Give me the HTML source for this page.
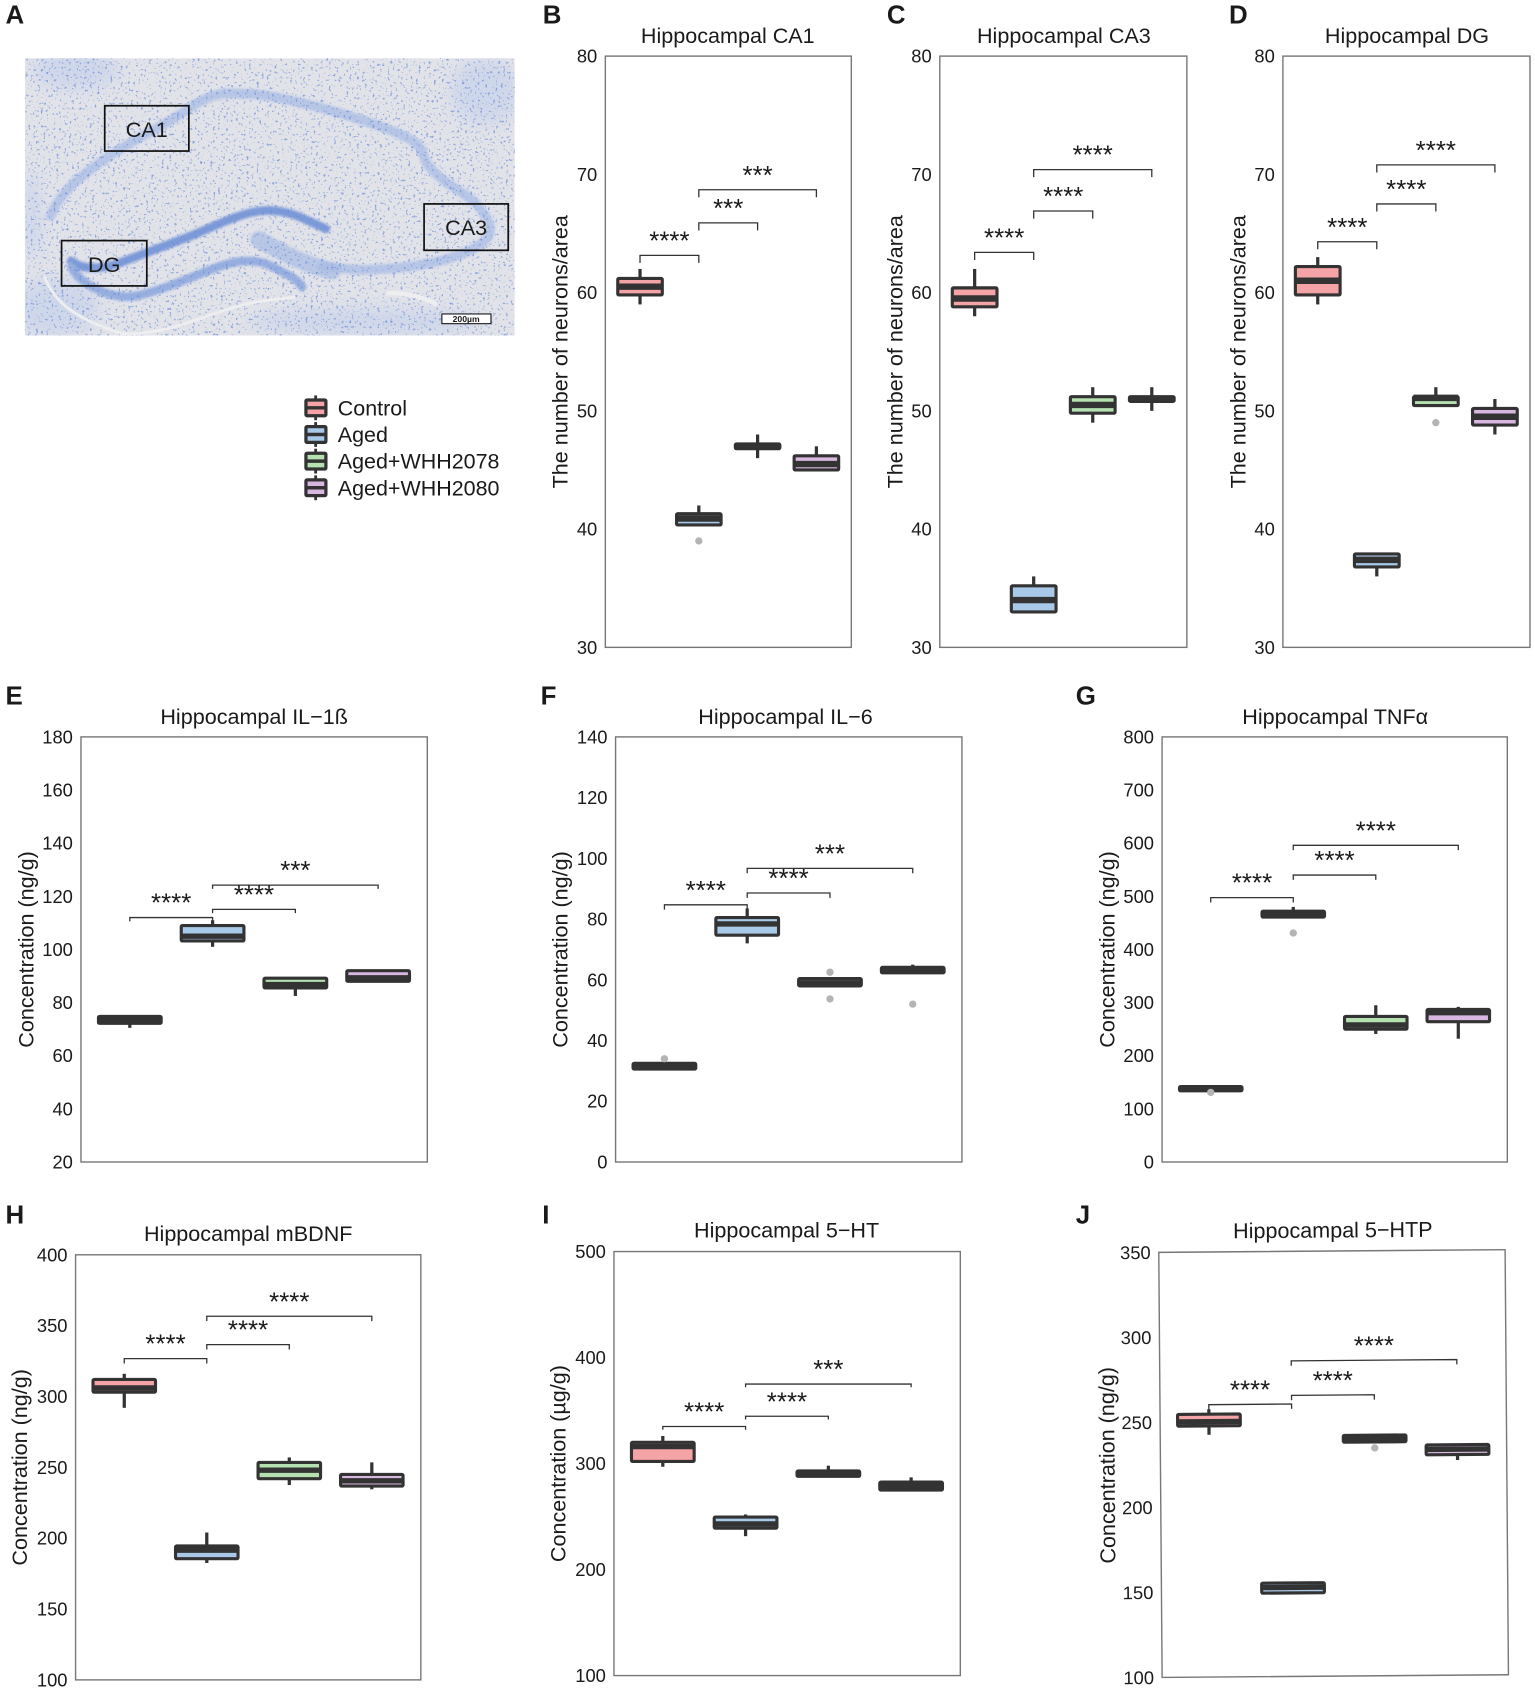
<!DOCTYPE html>
<html lang="en"><head><meta charset="utf-8"><title>Hippocampal measurements</title>
<style>html,body{margin:0;padding:0;background:#fff}svg{display:block}text{font-family:"Liberation Sans",sans-serif;fill:#1a1a1a}</style></head>
<body>
<svg id="fig" xmlns="http://www.w3.org/2000/svg" width="1535" height="1691" viewBox="0 0 1422.6 1567.3">
<defs>
<filter id="speckle" x="0" y="0" width="100%" height="100%" color-interpolation-filters="sRGB"><feTurbulence type="fractalNoise" baseFrequency="0.42" numOctaves="2" seed="4"/><feColorMatrix type="matrix" values="0 0 0 0 .42  0 0 0 0 .55  0 0 0 0 .84  0 0 0 8 -4.9"/></filter>
<filter id="soft" x="-30%" y="-30%" width="160%" height="160%"><feGaussianBlur stdDeviation="7"/></filter>
<filter id="softer" x="-10%" y="-10%" width="120%" height="120%"><feGaussianBlur stdDeviation="1.2"/></filter>
<clipPath id="histo-clip"><rect x="23" y="54" width="454" height="257"/></clipPath>
</defs>
<rect width="1422.6" height="1567.3" fill="#fff"/>
<g id="histology" clip-path="url(#histo-clip)">
<rect x="23" y="54" width="454" height="257" fill="#e2e3e9"/>
<g filter="url(#soft)" fill="#cfd7ea">
<ellipse cx="70" cy="65" rx="40" ry="18"/><ellipse cx="450" cy="85" rx="32" ry="30"/><ellipse cx="50" cy="285" rx="42" ry="26"/><ellipse cx="340" cy="298" rx="110" ry="12"/><ellipse cx="30" cy="200" rx="8" ry="40"/>
</g>
<g fill="none" stroke-linecap="round" filter="url(#softer)">
<path d="M47 200C55 178 79 159 107 141S150 118 176 100S215 87 230 87S300 98 352 117S385 140 399 156S435 180 444 192S460 215 447 225S400 250 330 250L299 247" stroke="#b7c6e6" stroke-width="9"/>
<path d="M240 222C262 234 280 245 312 252" stroke="#a6bae2" stroke-width="16" stroke-dasharray="2 6" opacity=".7"/>
<path d="M66 242C76 250 94 250 110 244S160 225 176 219S225 195 248 195S285 205 302 212" stroke="#7b9ad8" stroke-width="8"/>
<path d="M66 247C72 262 100 276 119 275S175 258 195 250S235 238 252 247S275 258 280 266" stroke="#97afdf" stroke-width="8"/>
</g>
<rect x="23" y="54" width="454" height="257" filter="url(#speckle)" opacity=".7"/>
<path d="M41 256C50 280 70 296 113 309C150 312 190 292 220 284S260 278 274 275" fill="none" stroke="#eeeef1" stroke-width="2.6"/>
<path d="M358 272Q380 270 405 282" fill="none" stroke="#eeeef1" stroke-width="4"/>
</g>
<g id="histo-marks" fill="none" stroke="#111" stroke-width="1.6">
<rect x="97" y="98" width="78" height="42"/>
<rect x="57" y="223" width="79" height="42"/>
<rect x="393" y="189" width="78" height="43"/>
</g>
<g font-size="20">
<text x="136" y="127" text-anchor="middle">CA1</text>
<text x="96.5" y="252" text-anchor="middle">DG</text>
<text x="432" y="218" text-anchor="middle">CA3</text>
</g>
<rect x="409.5" y="291" width="45.5" height="9" fill="#fff" stroke="#111" stroke-width="1"/>
<text x="432" y="298.6" font-size="8" font-weight="bold" text-anchor="middle">200µm</text>
<g id="panels"></g>
<g id="legend"></g>
</svg>
<script>
// ---- shared categories ----
const categories = ['Control', 'Aged', 'Aged+WHH2078', 'Aged+WHH2080'];
const boxFills = ['#f4a3a6', '#a9c9e8', '#b5e0b0', '#d9b7e0'];

// ---- panel B ----
const bTicks = [30, 40, 50, 60, 70, 80];
const bQ1 = [59.8, 40.35, 46.8, 45.0];
const bMedian = [60.5, 40.9, 47.0, 45.5];
const bQ3 = [61.2, 41.3, 47.2, 46.2];
const bLow = [59, 40.35, 46, 45];
const bHigh = [62, 42, 48, 47];
const bOutliers = [[], [39], [], []];
const bBrackets = [63.15, 65.9, 68.7];
const bStars = ['****', '***', '***'];
// ---- panel C ----
const cTicks = [30, 40, 50, 60, 70, 80];
const cQ1 = [58.8, 33.0, 49.8, 50.8];
const cMedian = [59.5, 34.0, 50.5, 51.0];
const cQ3 = [60.4, 35.2, 51.2, 51.2];
const cLow = [58, 33, 49, 50];
const cHigh = [62, 36, 52, 52];
const cOutliers = [[], [], [], []];
const cBrackets = [63.4, 66.9, 70.4];
const cStars = ['****', '****', '****'];
// ---- panel D ----
const dTicks = [30, 40, 50, 60, 70, 80];
const dQ1 = [59.8, 36.8, 50.45, 48.8];
const dMedian = [61.0, 37.4, 51.1, 49.5];
const dQ3 = [62.2, 37.9, 51.2, 50.2];
const dLow = [59, 36, 50.45, 48];
const dHigh = [63, 38, 52, 51];
const dOutliers = [[], [], [49], []];
const dBrackets = [64.3, 67.5, 70.8];
const dStars = ['****', '****', '****'];
// ---- panel E ----
const eTicks = [20, 40, 60, 80, 100, 120, 140, 160, 180];
const eQ1 = [72.2, 103.2, 85.5, 88.0];
const eMedian = [73.5, 105.0, 86.8, 89.3];
const eQ3 = [74.8, 109.0, 89.2, 92.0];
const eLow = [70.5, 101, 82.5, 88];
const eHigh = [75, 111, 89.2, 92];
const eOutliers = [[], [], [], []];
const eBrackets = [112, 115.1, 124.2];
const eStars = ['****', '****', '***'];
// ---- panel F ----
const fTicks = [0, 20, 40, 60, 80, 100, 120, 140];
const fQ1 = [30.6, 74.7, 58.0, 62.3];
const fMedian = [31.5, 78.4, 59.0, 63.0];
const fQ3 = [32.5, 80.5, 60.4, 64.1];
const fLow = [30.6, 72, 58, 62.3];
const fHigh = [32.5, 83.5, 60.4, 65];
const fOutliers = [[34], [], [62.5, 53.7], [52]];
const fBrackets = [84.7, 88.6, 96.7];
const fStars = ['****', '****', '***'];
// ---- panel G ----
const gTicks = [0, 100, 200, 300, 400, 500, 600, 700, 800];
const gQ1 = [134, 461, 250, 264];
const gMedian = [138, 466, 258, 281];
const gQ3 = [142, 472, 274, 287];
const gLow = [134, 461, 241, 232];
const gHigh = [142, 480, 295, 292];
const gOutliers = [[131], [431], [], []];
const gBrackets = [497.6, 540, 596];
const gStars = ['****', '****', '****'];
// ---- panel H ----
const hTicks = [100, 150, 200, 250, 300, 350, 400];
const hQ1 = [303, 185.5, 242, 236.8];
const hMedian = [306, 191.5, 248, 240.5];
const hQ3 = [312, 194.5, 253.5, 245];
const hLow = [292, 182.5, 237.5, 234.5];
const hHigh = [316, 204, 257, 253.5];
const hOutliers = [[], [], [], []];
const hBrackets = [326.7, 336.6, 356.6];
const hStars = ['****', '****', '****'];
// ---- panel I ----
const iTicks = [100, 200, 300, 400, 500];
const iQ1 = [302, 239, 288, 275];
const iMedian = [316, 243, 290.5, 279];
const iQ3 = [320, 249.5, 293, 282.5];
const iLow = [297, 231.5, 288, 275];
const iHigh = [326, 252, 298, 287];
const iOutliers = [[], [], [], []];
const iBrackets = [335, 344.6, 375];
const iStars = ['****', '****', '***'];
// ---- panel J ----
const jTicks = [100, 150, 200, 250, 300, 350];
const jQ1 = [247.7, 149.1, 237.5, 229.7];
const jMedian = [250.2, 152.4, 239.5, 232.9];
const jQ3 = [254.6, 155, 241.5, 235.5];
const jLow = [242.5, 149.1, 237.5, 226.5];
const jHigh = [257.5, 155, 241.5, 235.5];
const jOutliers = [[], [], [234], []];
const jBrackets = [260.2, 265.3, 285.6];
const jStars = ['****', '****', '****'];

const NS = 'http://www.w3.org/2000/svg';
const DARK = '#333';
function mk(tag, attrs, parent, text) {
  const el = document.createElementNS(NS, tag);
  for (const k in attrs) el.setAttribute(k, attrs[k]);
  if (text !== undefined) el.textContent = text;
  parent.appendChild(el);
  return el;
}
function slug(s) { return s.toLowerCase().replace(/[^a-z0-9]+/g, '-').replace(/^-|-$/g, ''); }

const panelDefs = [
  {key:'b', letter:'B', title:'Hippocampal CA1', tx:674.5, ylabel:'The number of neurons/area', box:[561,52,789,600], lx:503, ly:22, tb:40, yl:526, drop:7, medW:6, ticks:bTicks, q1:bQ1, med:bMedian, q3:bQ3, lo:bLow, hi:bHigh, out:bOutliers, br:bBrackets, st:bStars},
  {key:'c', letter:'C', title:'Hippocampal CA3', tx:986, ylabel:'The number of neurons/area', box:[871,52,1100,600], lx:822, ly:22, tb:40, yl:836.5, drop:7, medW:6, ticks:cTicks, q1:cQ1, med:cMedian, q3:cQ3, lo:cLow, hi:cHigh, out:cOutliers, br:cBrackets, st:cStars},
  {key:'d', letter:'D', title:'Hippocampal DG', tx:1304, ylabel:'The number of neurons/area', box:[1189,52,1418,600], lx:1139, ly:22, tb:40, yl:1154.5, drop:7, medW:6, ticks:dTicks, q1:dQ1, med:dMedian, q3:dQ3, lo:dLow, hi:dHigh, out:dOutliers, br:dBrackets, st:dStars},
  {key:'e', letter:'E', title:'Hippocampal IL\u22121\u00df', tx:235.5, ylabel:'Concentration (ng/g)', box:[75,683,396,1077], lx:5, ly:653, tb:671, yl:31, drop:3.5, medW:5, ticks:eTicks, q1:eQ1, med:eMedian, q3:eQ3, lo:eLow, hi:eHigh, out:eOutliers, br:eBrackets, st:eStars},
  {key:'f', letter:'F', title:'Hippocampal IL\u22126', tx:728, ylabel:'Concentration (ng/g)', box:[570.5,683,891.5,1077], lx:501, ly:653, tb:671, yl:526, drop:4.5, medW:5, ticks:fTicks, q1:fQ1, med:fMedian, q3:fQ3, lo:fLow, hi:fHigh, out:fOutliers, br:fBrackets, st:fStars},
  {key:'g', letter:'G', title:'Hippocampal TNF\u03b1', tx:1237.5, ylabel:'Concentration (ng/g)', box:[1077,683,1397,1077], lx:997, ly:653, tb:671, yl:1033, drop:4.5, medW:5, ticks:gTicks, q1:gQ1, med:gMedian, q3:gQ3, lo:gLow, hi:gHigh, out:gOutliers, br:gBrackets, st:gStars},
  {key:'h', letter:'H', title:'Hippocampal mBDNF', tx:230, ylabel:'Concentration (ng/g)', box:[70,1163,390,1557], lx:5, ly:1134, tb:1150, yl:25, drop:4.5, medW:5, ticks:hTicks, q1:hQ1, med:hMedian, q3:hQ3, lo:hLow, hi:hHigh, out:hOutliers, br:hBrackets, st:hStars},
  {key:'i', letter:'I', title:'Hippocampal 5\u2212HT', tx:729, ylabel:'Concentration (\u00b5g/g)', box:[569,1160,890,1553], lx:502.5, ly:1134, tb:1147, yl:524, drop:3, medW:5, ticks:iTicks, q1:iQ1, med:iMedian, q3:iQ3, lo:iLow, hi:iHigh, out:iOutliers, br:iBrackets, st:iStars},
  {key:'j', letter:'J', title:'Hippocampal 5\u2212HTP', tx:1237, ylabel:'Concentration (ng/g)', box:[1075.5,1159.5,1396.5,1553.5], lx:997, ly:1134, tb:1147, yl:1033, drop:4.5, medW:5, tilt:-0.45, ticks:jTicks, q1:jQ1, med:jMedian, q3:jQ3, lo:jLow, hi:jHigh, out:jOutliers, br:jBrackets, st:jStars}
];

const panelsRoot = document.getElementById('panels');
const slotFrac = [0.141, 0.38, 0.619, 0.858];

panelDefs.forEach(function (p) {
  const L = p.box[0], T = p.box[1], R = p.box[2], B = p.box[3];
  const W = R - L;
  const yMin = p.ticks[0], yMax = p.ticks[p.ticks.length - 1];
  const yScale = function (v) { return B - (v - yMin) / (yMax - yMin) * (B - T); };
  const xScale = function (i) { return L + slotFrac[i] * W; };
  const boxW = 0.181 * W;

  const letter = mk('text', {x: p.lx, y: p.ly, 'font-size': 24, 'font-weight': 'bold', fill: '#111'}, panelsRoot, p.letter);
  
  

  const g = mk('g', {}, panelsRoot);
  
  
  if (p.tilt) g.setAttribute('transform', 'rotate(' + p.tilt + ' ' + ((L + R) / 2) + ' ' + ((T + B) / 2) + ')');

  const frame = mk('rect', {x: L, y: T, width: W, height: B - T, fill: '#fff', stroke: '#777', 'stroke-width': 1.3}, g);
  
  

  const title = mk('text', {x: p.tx, y: p.tb, 'font-size': 20, 'text-anchor': 'middle'}, g, p.title);
  
  

  const yt = mk('text', {x: 0, y: 0, 'font-size': 20, 'text-anchor': 'middle', transform: 'translate(' + p.yl + ' ' + ((T + B) / 2) + ') rotate(-90)'}, g, p.ylabel);
  
  

  p.ticks.forEach(function (t) {
    const lab = mk('text', {x: L - 7.5, y: yScale(t) + 6, 'font-size': 17, 'text-anchor': 'end'}, g, String(t));
    
    
  });

  categories.forEach(function (cat, i) {
    const cx = xScale(i);
    const group = mk('g', {}, g);
    
    

    const whisker = mk('line', {x1: cx, x2: cx, y1: yScale(p.hi[i]), y2: yScale(p.lo[i]), stroke: DARK, 'stroke-width': 3}, group);
    
    

    const rect = mk('rect', {x: cx - boxW / 2, y: yScale(p.q3[i]), width: boxW, height: yScale(p.q1[i]) - yScale(p.q3[i]), fill: boxFills[i], stroke: DARK, 'stroke-width': 2.9, rx: 1}, group);
    
    

    const median = mk('line', {x1: cx - boxW / 2, x2: cx + boxW / 2, y1: yScale(p.med[i]), y2: yScale(p.med[i]), stroke: DARK, 'stroke-width': p.medW}, group);
    
    

    p.out[i].forEach(function (v) {
      const dot = mk('circle', {cx: cx, cy: yScale(v), r: 3.4, fill: '#b4b4b4'}, group);
      
      
    });
  });

  const spans = [[0, 1], [1, 2], [1, 3]];
  spans.forEach(function (s, k) {
    const y = yScale(p.br[k]);
    const x1 = xScale(s[0]), x2 = xScale(s[1]);
    const br = mk('path', {d: 'M' + x1 + ' ' + (y + p.drop) + 'V' + y + 'H' + x2 + 'V' + (y + p.drop), fill: 'none', stroke: DARK, 'stroke-width': 1.2}, g);
    
    
    const star = mk('text', {x: (x1 + x2) / 2, y: y - 5.5, 'font-size': 24, 'text-anchor': 'middle', fill: '#111'}, g, p.st[k]);
    
    
  });
});

// panel A letter
const letterA = mk('text', {x: 5, y: 22, 'font-size': 24, 'font-weight': 'bold', fill: '#111'}, panelsRoot, 'A');



// legend
const legendRoot = document.getElementById('legend');
categories.forEach(function (cat, i) {
  const cy = 378 + i * 24.7;
  const entry = mk('g', {}, legendRoot);
  
  
  const w = mk('line', {x1: 292.5, x2: 292.5, y1: cy - 11.5, y2: cy + 11.5, stroke: DARK, 'stroke-width': 2.6}, entry);
  
  
  const r = mk('rect', {x: 283.5, y: cy - 7.3, width: 18.5, height: 14.6, fill: boxFills[i], stroke: DARK, 'stroke-width': 3, rx: 1}, entry);
  
  
  const m = mk('line', {x1: 283.5, x2: 302, y1: cy, y2: cy, stroke: DARK, 'stroke-width': 3.2}, entry);
  
  
  const t = mk('text', {x: 313, y: cy + 7, 'font-size': 19.9}, entry, cat);
  
  
});
</script>
</body></html>
